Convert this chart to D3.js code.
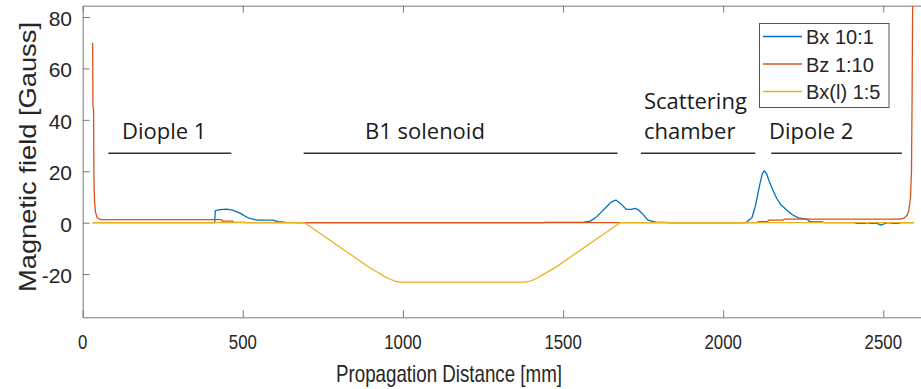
<!DOCTYPE html>
<html>
<head>
<meta charset="utf-8">
<script src="https://cdn.jsdelivr.net/npm/d3@7"></script>
<style>
  html, body { margin: 0; padding: 0; background: #fff; }
  svg { display: block; }
</style>
</head>
<body>
<svg id="chart" width="921" height="389"></svg>
<script>
// Propagation distance [mm] / field [Gauss] samples for each scaled field component
const bxDist = [31, 412, 414, 430, 450, 470, 491, 516, 543, 594, 610, 637, 690, 1440, 1444, 1563, 1585, 1605, 1620, 1636, 1650, 1665, 1680, 1697, 1712, 1725, 1735, 1746, 1765, 1792, 1820, 1830, 2070, 2074, 2090, 2100, 2108, 2115, 2122, 2128, 2135, 2146, 2157, 2167, 2180, 2198, 2215, 2235, 2262, 2268, 2275, 2308, 2315, 2410, 2417, 2443, 2450, 2459, 2479, 2495, 2505, 2515, 2531, 2546, 2555, 2595];
const bxVal  = [0, 0, 4.7, 5.1, 5.3, 4.8, 3.7, 1.9, 1.05, 1.0, 0.4, 0.1, 0, 0, 0.15, 0.15, 0.6, 2.3, 4.2, 6.2, 8.0, 8.8, 7.4, 5.2, 5.2, 5.6, 5.0, 3.7, 1.0, 0.15, 0.1, 0, 0, 0.3, 2.0, 6.2, 11, 15.3, 19, 20.2, 19.2, 15.3, 12.2, 9.5, 7, 4.9, 3.2, 1.9, 1.3, 0.6, 0.3, 0.3, 0, 0, -0.3, -0.3, 0, -0.3, -0.3, -0.9, -0.3, 0, -0.3, -0.3, 0, 0];

const bzDist = [31, 32, 34, 35, 37, 40, 45, 52, 60, 100, 433, 436, 468, 471, 505, 508, 2105, 2110, 2138, 2142, 2188, 2192, 2552, 2565, 2575, 2580, 2585, 2588, 2590, 2592];
const bzVal  = [70, 45.5, 44, 18, 8, 4, 2, 1.4, 1.2, 1.2, 1.2, 0.6, 0.6, 0.15, 0.15, 0, 0, 0.4, 0.4, 1.0, 1.0, 1.4, 1.4, 1.8, 3, 5, 10, 20, 50, 95];

const bxlDist = [31, 693, 824, 900, 918, 940, 960, 975, 991, 1381, 1400, 1418, 1440, 1480, 1678, 2595];
const bxlVal  = [0, 0, -11.3, -17.8, -19.1, -20.8, -22.0, -22.7, -23.1, -23.1, -22.6, -21.6, -20.0, -17.1, 0, 0];

const seriesNames = ["Bx 10:1", "Bz 1:10", "Bx(l) 1:5"];
const seriesColors = ["#0072BD", "#D95319", "#EDB120"];

const xTicks = [0, 500, 1000, 1500, 2000, 2500];
const yTicks = [-20, 0, 20, 40, 60, 80];

// Labelled beamline sections: text lines, underline extent [mm]
const sectionLabels = [["Diople 1"], ["B1 solenoid"], ["Scattering", "chamber"], ["Dipole 2"]];
const sectionStart = [80, 690, 1743, 2150];
const sectionEnd   = [464, 1670, 2100, 2558];

const svg = d3.select("#chart");
const plot = { left: 82.7, top: 5.7, bottom: 317.3 };
const xMax = 2630;
const x = d3.scaleLinear().domain([0, xMax]).range([plot.left, plot.left + xMax * 0.32024]);
const y = d3.scaleLinear().domain([-36.8, 84.4]).range([plot.bottom, plot.top]);

const axisColor = "#7a7a7a";
const textColor = "#262626";
const font = "'Liberation Sans', Arial, sans-serif";

svg.append("defs").append("clipPath").attr("id", "plotClip")
  .append("rect")
  .attr("x", x(0)).attr("y", y.range()[1])
  .attr("width", x(xMax) - x(0)).attr("height", y.range()[0] - y.range()[1]);

// Axes with inward ticks
const xAxisB = d3.axisBottom(x).tickValues(xTicks).tickSizeInner(-7).tickSizeOuter(0).tickFormat("");
const xAxisT = d3.axisTop(x).tickValues(xTicks).tickSizeInner(-7).tickSizeOuter(0).tickFormat("");
const yAxisL = d3.axisLeft(y).tickValues(yTicks).tickSizeInner(-7).tickSizeOuter(0).tickFormat("");

function styleAxis(g) {
  g.selectAll("path, line").attr("stroke", axisColor).attr("stroke-width", 1);
}
svg.append("g").attr("transform", `translate(0,${plot.bottom})`).call(xAxisB).call(styleAxis);
svg.append("g").attr("transform", `translate(0,${plot.top})`).call(xAxisT).call(styleAxis);
svg.append("g").attr("transform", `translate(${plot.left},0)`).call(yAxisL).call(styleAxis);

// Tick labels
svg.append("g").selectAll("text").data(xTicks).join("text")
  .attr("transform", d => `translate(${x(d)},349) scale(0.8,1)`)
  .attr("text-anchor", "middle")
  .attr("font-family", font).attr("font-size", 21).attr("fill", textColor)
  .text(d => d);

svg.append("g").selectAll("text").data(yTicks).join("text")
  .attr("x", 72).attr("y", d => y(d) + 9)
  .attr("text-anchor", "end")
  .attr("font-family", font).attr("font-size", 21).attr("fill", textColor)
  .text(d => d);

// Axis titles
svg.append("text")
  .attr("x", 449).attr("y", 382)
  .attr("text-anchor", "middle")
  .attr("font-family", font).attr("font-size", 24).attr("fill", textColor)
  .attr("textLength", 226).attr("lengthAdjust", "spacingAndGlyphs")
  .text("Propagation Distance [mm]");

svg.append("text")
  .attr("transform", `translate(36,157) rotate(-90)`)
  .attr("text-anchor", "middle")
  .attr("font-family", font).attr("font-size", 24).attr("fill", textColor)
  .attr("textLength", 270).attr("lengthAdjust", "spacingAndGlyphs")
  .text("Magnetic field [Gauss]");

// Field curves
const line = d3.line().x(d => x(d[0])).y(d => y(d[1]));
const seriesData = [
  d3.zip(bxDist, bxVal),
  d3.zip(bzDist, bzVal),
  d3.zip(bxlDist, bxlVal)
];
const curves = svg.append("g").attr("clip-path", "url(#plotClip)");
seriesData.forEach((pts, i) => {
  curves.append("path")
    .datum(pts)
    .attr("fill", "none")
    .attr("stroke", seriesColors[i])
    .attr("stroke-width", 1.3)
    .attr("stroke-linejoin", "round")
    .attr("d", line);
});

// Section annotations
const annFont = "'Open Sans', 'Noto Sans', sans-serif";
const ann = svg.append("g");
sectionLabels.forEach((lines, i) => {
  const x0 = x(sectionStart[i]), x1 = x(sectionEnd[i]);
  ann.append("line")
    .attr("x1", x0).attr("x2", x1).attr("y1", 153.3).attr("y2", 153.3)
    .attr("stroke", "#333").attr("stroke-width", 1.5);
});
const annPos = [[122, [139]], [365, [139]], [644, [109, 139]], [769, [139]]];
sectionLabels.forEach((lines, i) => {
  lines.forEach((t, j) => {
    ann.append("text")
      .attr("x", annPos[i][0]).attr("y", annPos[i][1][j])
      .attr("font-family", annFont).attr("font-size", 22).attr("fill", "#1a1a1a")
      .text(t);
  });
});

// Legend
const legend = svg.append("g");
legend.append("rect")
  .attr("x", 759.5).attr("y", 23.5).attr("width", 129.5).attr("height", 84)
  .attr("fill", "#fff").attr("stroke", "#555").attr("stroke-width", 1);
seriesNames.forEach((name, i) => {
  const ly = 36.5 + i * 27.5;
  legend.append("line")
    .attr("x1", 763).attr("x2", 802).attr("y1", ly).attr("y2", ly)
    .attr("stroke", seriesColors[i]).attr("stroke-width", 1.4);
  legend.append("text")
    .attr("x", 806).attr("y", ly + 7.5)
    .attr("font-family", font).attr("font-size", 20).attr("fill", textColor)
    .text(name);
});
</script>
</body>
</html>
